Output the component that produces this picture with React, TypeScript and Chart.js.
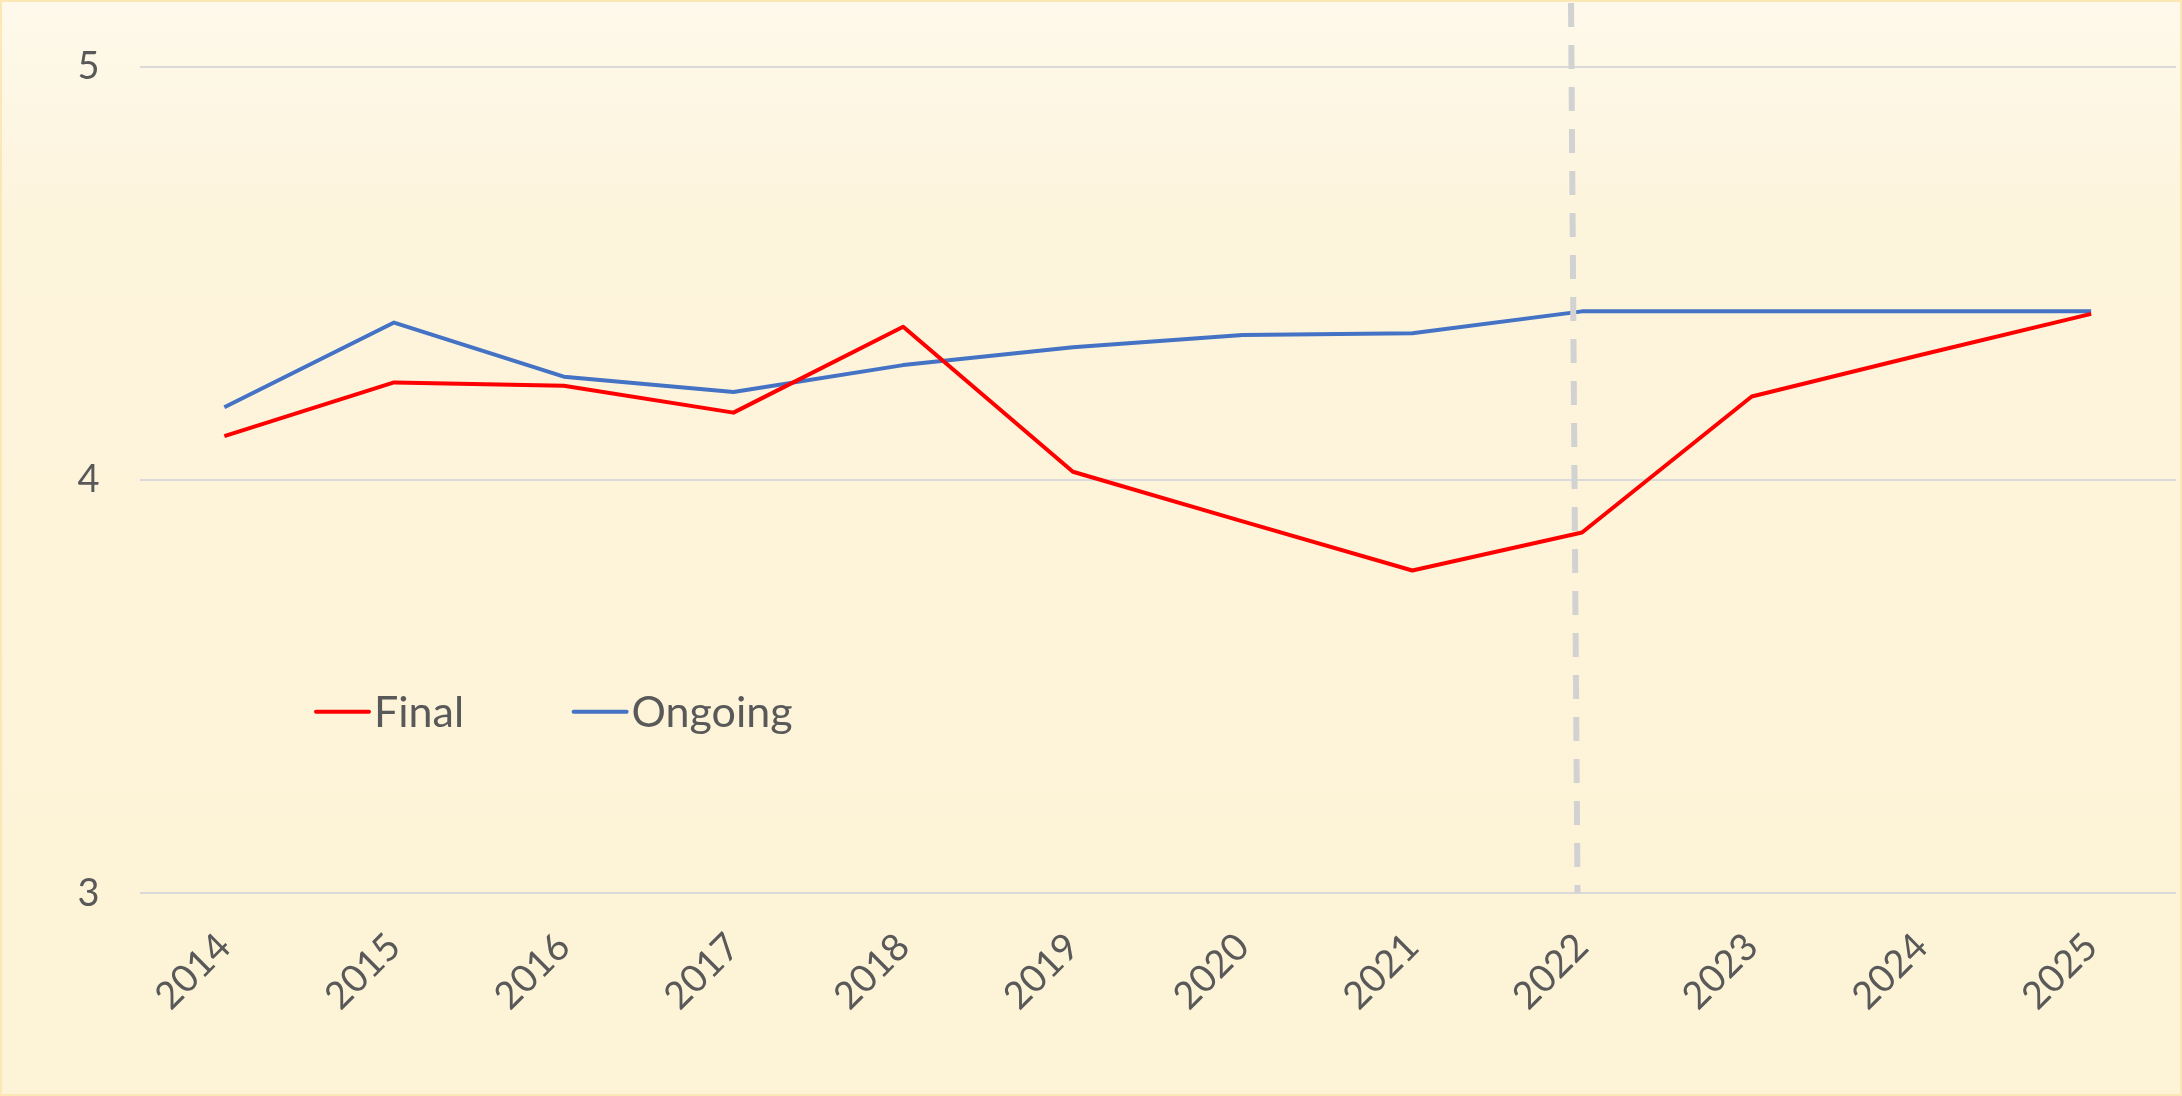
import React, { useEffect, useRef } from "react";
import { Chart, registerables } from "chart.js";

Chart.register(...registerables);

const years = ["2014", "2015", "2016", "2017", "2018", "2019", "2020", "2021", "2022", "2023", "2024", "2025"];
const finalValues = [4.106, 4.236, 4.228, 4.163, 4.371, 4.02, 3.9, 3.781, 3.873, 4.202, 4.303, 4.402];
const ongoingValues = [4.176, 4.381, 4.25, 4.213, 4.278, 4.321, 4.351, 4.355, 4.408, 4.408, 4.408, 4.408];
const seriesNames = ["Final", "Ongoing"];
const seriesColors = ["#FF0000", "#4472C4"];
const yMin = 3;
const yMax = 5;
const yStep = 1;
const markerYear = "2022";

const FONT = "Lato, 'Open Sans', sans-serif";
const TEXT = "#595959";

export default function App() {
  const canvasRef = useRef<HTMLCanvasElement | null>(null);

  useEffect(() => {
    document.body.style.margin = "0";
    const canvas = canvasRef.current;
    if (!canvas) return;

    const bgPlugin = {
      id: "bgFill",
      beforeDraw(chart: any) {
        const { ctx, width, height } = chart;
        ctx.save();
        const g = ctx.createLinearGradient(0, 0, 0, height);
        g.addColorStop(0, "#fef9eb");
        g.addColorStop(0.2, "#fdf4dc");
        g.addColorStop(1, "#fdf3d6");
        ctx.fillStyle = g;
        ctx.fillRect(0, 0, width, height);
        ctx.strokeStyle = "#fbe8b5";
        ctx.lineWidth = 2;
        ctx.strokeRect(1, 1, width - 2, height - 2);
        ctx.restore();
      },
    };

    const markerPlugin = {
      id: "markerLine",
      afterDatasetsDraw(chart: any) {
        const { ctx } = chart;
        const xs = chart.scales.x;
        const ys = chart.scales.y;
        const x = xs.getPixelForValue(years.indexOf(markerYear));
        const yb = ys.getPixelForValue(yMin);
        ctx.save();
        ctx.setLineDash([24, 18]);
        ctx.lineWidth = 6;
        ctx.lineCap = "butt";
        ctx.strokeStyle = "#d2d2d2";
        ctx.beginPath();
        ctx.moveTo(x - 11, 3);
        ctx.lineTo(x - 4.5, yb);
        ctx.stroke();
        ctx.restore();
      },
    };

    const legendXs = [316, 573.6];
    const legendPlugin = {
      id: "insideLegend",
      afterDraw(chart: any) {
        const { ctx } = chart;
        const yLine = 711.7;
        ctx.save();
        chart.data.datasets.forEach((ds: any, i: number) => {
          const x0 = legendXs[i];
          ctx.strokeStyle = ds.borderColor;
          ctx.lineWidth = 4;
          ctx.lineCap = "round";
          ctx.beginPath();
          ctx.moveTo(x0, yLine);
          ctx.lineTo(x0 + 53, yLine);
          ctx.stroke();
          ctx.fillStyle = TEXT;
          ctx.font = `43px ${FONT}`;
          ctx.textBaseline = "alphabetic";
          ctx.textAlign = "left";
          ctx.fillText(ds.label, x0 + 58, 727);
        });
        ctx.restore();
      },
    };

    const chart = new Chart(canvas, {
      type: "line",
      data: {
        labels: years,
        datasets: [
          {
            label: seriesNames[0],
            data: finalValues,
            borderColor: seriesColors[0],
            backgroundColor: seriesColors[0],
            borderWidth: 4,
            pointRadius: 0,
            tension: 0,
            borderJoinStyle: "round",
          },
          {
            label: seriesNames[1],
            data: ongoingValues,
            borderColor: seriesColors[1],
            backgroundColor: seriesColors[1],
            borderWidth: 4,
            pointRadius: 0,
            tension: 0,
            borderJoinStyle: "round",
          },
        ],
      },
      options: {
        responsive: false,
        animation: false,
        devicePixelRatio: 1,
        layout: { padding: { top: 66.7, right: 6, left: 0, bottom: 0 } },
        plugins: {
          legend: { display: false },
          tooltip: { enabled: false },
        },
        scales: {
          x: {
            offset: true,
            grid: { display: false, drawTicks: false },
            border: { display: false },
            ticks: {
              color: TEXT,
              font: { family: FONT, size: 38 },
              maxRotation: 45,
              minRotation: 45,
              padding: 31,
              autoSkip: false,
            },
            afterFit(scale: any) {
              scale.height = 202.7;
            },
          },
          y: {
            min: yMin,
            max: yMax,
            grid: { color: "#dadada", lineWidth: 2, drawTicks: false },
            border: { display: false },
            ticks: {
              stepSize: yStep,
              color: TEXT,
              font: { family: FONT, size: 38 },
              padding: 40,
            },
            afterFit(scale: any) {
              scale.width = 139.5;
            },
          },
        },
      },
      plugins: [bgPlugin, markerPlugin, legendPlugin],
    } as any);

    return () => chart.destroy();
  }, []);

  return (
    <div style={{ position: "fixed", left: 0, top: 0, width: 2182, height: 1096 }}>
      <canvas ref={canvasRef} width={2182} height={1096} style={{ display: "block", width: 2182, height: 1096 }} />
    </div>
  );
}
